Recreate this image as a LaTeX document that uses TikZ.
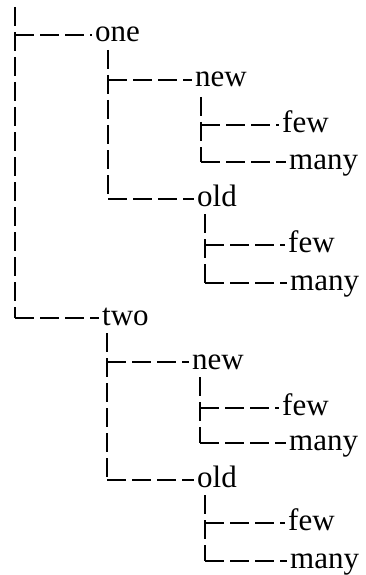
\documentclass[tikz,border=0pt]{standalone}
\usepackage{fontspec}
\setmainfont{Liberation Serif}
\tikzset{leaf/.style={anchor=west, inner xsep=3pt, inner ysep=0pt, text height=14pt, text depth=0pt, font=\fontsize{31}{36}\selectfont}, % text of each entry
branch/.style={line width=2.2pt, dash pattern=on 19pt off 6pt}, % the dashed folder lines
}

\begin{document}
\begin{tikzpicture}[x=1pt, y=-1pt]
\useasboundingbox (0,0) rectangle (365,575);
\coordinate (top) at (15,7);
\node[leaf] (one) at (92,35) {one};
\node[leaf] (onenew) at (192,80) {new};
\node[leaf] (onenewfew) at (279,125) {few};
\node[leaf] (onenewmany) at (286,162) {many};
\node[leaf] (oneold) at (194,199) {old};
\node[leaf] (oneoldfew) at (285,245) {few};
\node[leaf] (oneoldmany) at (287,283) {many};
\node[leaf] (two) at (99,318) {two};
\node[leaf] (twonew) at (189,362) {new};
\node[leaf] (twonewfew) at (279,408) {few};
\node[leaf] (twonewmany) at (286,443) {many};
\node[leaf] (twoold) at (194,480) {old};
\node[leaf] (twooldfew) at (285,523) {few};
\node[leaf] (twooldmany) at (287,561) {many};
% where the lines below each entry start
\coordinate (one-v) at (108,50);
\coordinate (onenew-v) at (201,97);
\coordinate (oneold-v) at (205,214);
\coordinate (two-v) at (107,333);
\coordinate (twonew-v) at (200,377);
\coordinate (twoold-v) at (205,495);
% the uprights
\draw[branch] (top) -- (top |- two.west)
(one-v) -- (one-v |- oneold.west)
(onenew-v) -- (onenew-v |- onenewmany.west)
(oneold-v) -- (oneold-v |- oneoldmany.west)
(two-v) -- (two-v |- twoold.west)
(twonew-v) -- (twonew-v |- twonewmany.west)
(twoold-v) -- (twoold-v |- twooldmany.west);
% the arms
\draw[branch] (top |- one.west) -- (one.west)
(top |- two.west) -- (two.west)
(one-v |- onenew.west) -- (onenew.west)
(one-v |- oneold.west) -- (oneold.west)
(onenew-v |- onenewfew.west) -- (onenewfew.west)
(onenew-v |- onenewmany.west) -- (onenewmany.west)
(oneold-v |- oneoldfew.west) -- (oneoldfew.west)
(oneold-v |- oneoldmany.west) -- (oneoldmany.west)
(two-v |- twonew.west) -- (twonew.west)
(two-v |- twoold.west) -- (twoold.west)
(twonew-v |- twonewfew.west) -- (twonewfew.west)
(twonew-v |- twonewmany.west) -- (twonewmany.west)
(twoold-v |- twooldfew.west) -- (twooldfew.west)
(twoold-v |- twooldmany.west) -- (twooldmany.west);
\end{tikzpicture}
\end{document}
